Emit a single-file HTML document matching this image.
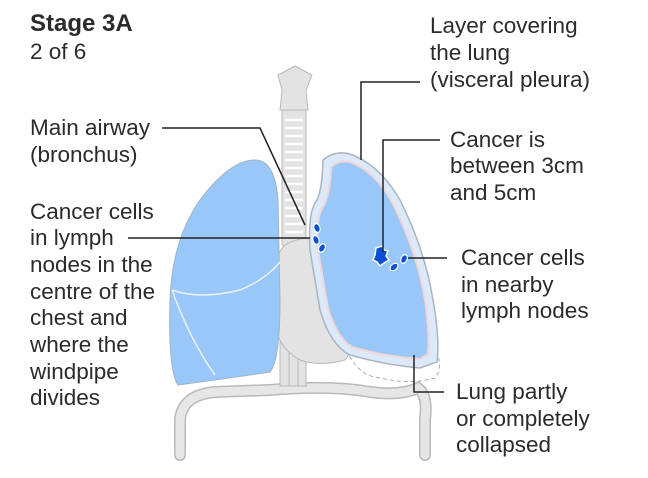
<!DOCTYPE html>
<html><head><style>
body{margin:0;background:#fff}
svg text{font-family:"Liberation Sans",Arial,sans-serif;fill:#2b2b2b;font-size:22.5px}
</style></head><body>
<svg width="648" height="473" viewBox="0 0 648 473" xmlns="http://www.w3.org/2000/svg">
<!-- diaphragm / ribs -->
<path d="M180,455 L180,420 Q182,395 215,392 L270,390 Q330,385 370,392 Q400,396 418,388 Q428,395 425,420 L425,455" fill="none" stroke="#b9b9b9" stroke-width="12" stroke-linecap="round"/>
<path d="M180,455 L180,420 Q182,395 215,392 L270,390 Q330,385 370,392 Q400,396 418,388 Q428,395 425,420 L425,455" fill="none" stroke="#e6e6e6" stroke-width="9" stroke-linecap="round"/>
<!-- spine -->
<rect x="280" y="320" width="26" height="66" fill="#e3e3e3" stroke="#b9b9b9"/>
<line x1="289" y1="320" x2="289" y2="386" stroke="#b9b9b9"/>
<line x1="298" y1="320" x2="298" y2="386" stroke="#b9b9b9"/>
<!-- trachea -->
<rect x="282" y="110" width="24" height="135" fill="#e3e3e3" stroke="#b9b9b9"/>
<g stroke="#fff" stroke-width="2.5">
<line x1="285" y1="120" x2="303" y2="120"/><line x1="285" y1="128" x2="303" y2="128"/><line x1="285" y1="136" x2="303" y2="136"/><line x1="285" y1="144" x2="303" y2="144"/><line x1="285" y1="152" x2="303" y2="152"/><line x1="285" y1="160" x2="303" y2="160"/><line x1="285" y1="168" x2="303" y2="168"/><line x1="285" y1="176" x2="303" y2="176"/><line x1="285" y1="184" x2="303" y2="184"/><line x1="285" y1="192" x2="303" y2="192"/><line x1="285" y1="200" x2="303" y2="200"/><line x1="285" y1="208" x2="303" y2="208"/><line x1="285" y1="216" x2="303" y2="216"/><line x1="285" y1="224" x2="303" y2="224"/><line x1="285" y1="232" x2="303" y2="232"/>
</g>
<!-- larynx -->
<path d="M278,75 L295,66 L312,75 L306,90 L308,110 L280,110 L282,90 Z" fill="#e3e3e3" stroke="#b9b9b9"/>
<!-- heart -->
<path d="M285,245 Q300,235 325,240 L350,300 Q358,345 345,360 Q320,367 300,360 Q272,345 270,300 Q270,260 285,245 Z" fill="#e3e3e3" stroke="#b9b9b9"/>
<path d="M340,330 Q350,375 380,378 Q410,385 435,378 Q442,370 438,355" fill="none" stroke="#aaa" stroke-dasharray="4,3"/>
<!-- left lung -->
<path d="M255,160 Q275,160 278,200 L280,300 Q280,360 270,372 Q230,378 178,385 Q168,370 170,300 Q172,240 200,200 Q230,160 255,160 Z" fill="#99c7f7" stroke="#9fb3c8"/>
<path d="M172,290 Q200,300 240,290 Q265,280 280,262" fill="none" stroke="#e8f2fd" stroke-width="1.5"/>
<path d="M172,290 Q190,340 215,375" fill="none" stroke="#e8f2fd" stroke-width="1.5"/>
<!-- right lung pleura -->
<path d="M323,160 Q335,150 350,154 Q380,165 400,200 Q425,250 433,300 Q440,340 437,362 L420,368 Q385,365 350,355 Q330,345 320,310 L310,250 Q308,215 315,203 Q322,195 323,160 Z" fill="#dbe9fa" stroke="#aab5c0" stroke-width="1.5"/>
<path d="M331,167 Q340,159 350,162 Q376,172 393,204 Q417,252 425,300 Q430,335 428,354 L420,359 Q386,357 352,347 Q337,338 328,308 L318,250 Q316,220 322,208 Q330,198 331,167 Z" fill="#99c7f7" stroke="#f0d6d6" stroke-width="2"/>
<!-- cancer -->
<path d="M376,248 L382,246 L384,250 L388,251 L386,256 L389,260 L384,263 L380,266 L377,262 L373,260 L375,255 Z" fill="#0a4fd6" stroke="#fff" stroke-width="1.5"/>
<g fill="#0a4fd6" stroke="#fff" stroke-width="1.2">
<ellipse cx="317" cy="228" rx="3" ry="4.5" transform="rotate(-20 317 228)"/>
<ellipse cx="316" cy="240" rx="3" ry="4.5" transform="rotate(-20 316 240)"/>
<ellipse cx="322" cy="248" rx="3" ry="4.5" transform="rotate(30 322 248)"/>
<ellipse cx="404" cy="259" rx="3" ry="4.5" transform="rotate(25 404 259)"/>
<ellipse cx="394" cy="267" rx="3" ry="4.5" transform="rotate(50 394 267)"/>
</g>
<!-- leader lines -->
<g fill="none" stroke="#222" stroke-width="1.5">
<polyline points="162,128 260,128 305,225"/>
<line x1="128" y1="238" x2="310" y2="238"/>
<polyline points="420,82 361,82 361,160"/>
<polyline points="440,140 383,140 383,252"/>
<line x1="408" y1="258" x2="447" y2="258"/>
<polyline points="414,355 414,392 444,392"/>
</g>
<text x="30" y="31" style="font-weight:bold;font-size:24px">Stage 3A</text>
<text x="30" y="59">2 of 6</text>
<text x="30" y="135">Main airway</text>
<text x="30" y="162">(bronchus)</text>
<text x="30" y="219">Cancer cells</text>
<text x="30" y="245">in lymph</text>
<text x="30" y="272">nodes in the</text>
<text x="30" y="299">centre of the</text>
<text x="30" y="325">chest and</text>
<text x="30" y="352">where the</text>
<text x="30" y="379">windpipe</text>
<text x="30" y="405">divides</text>
<text x="430" y="33">Layer covering</text>
<text x="430" y="60">the lung</text>
<text x="430" y="87">(visceral pleura)</text>
<text x="450" y="147">Cancer is</text>
<text x="450" y="173">between 3cm</text>
<text x="450" y="200">and 5cm</text>
<text x="461" y="265">Cancer cells</text>
<text x="461" y="292">in nearby</text>
<text x="461" y="318">lymph nodes</text>
<text x="456" y="399">Lung partly</text>
<text x="456" y="426">or completely</text>
<text x="456" y="452">collapsed</text>
</svg>
</body></html>
